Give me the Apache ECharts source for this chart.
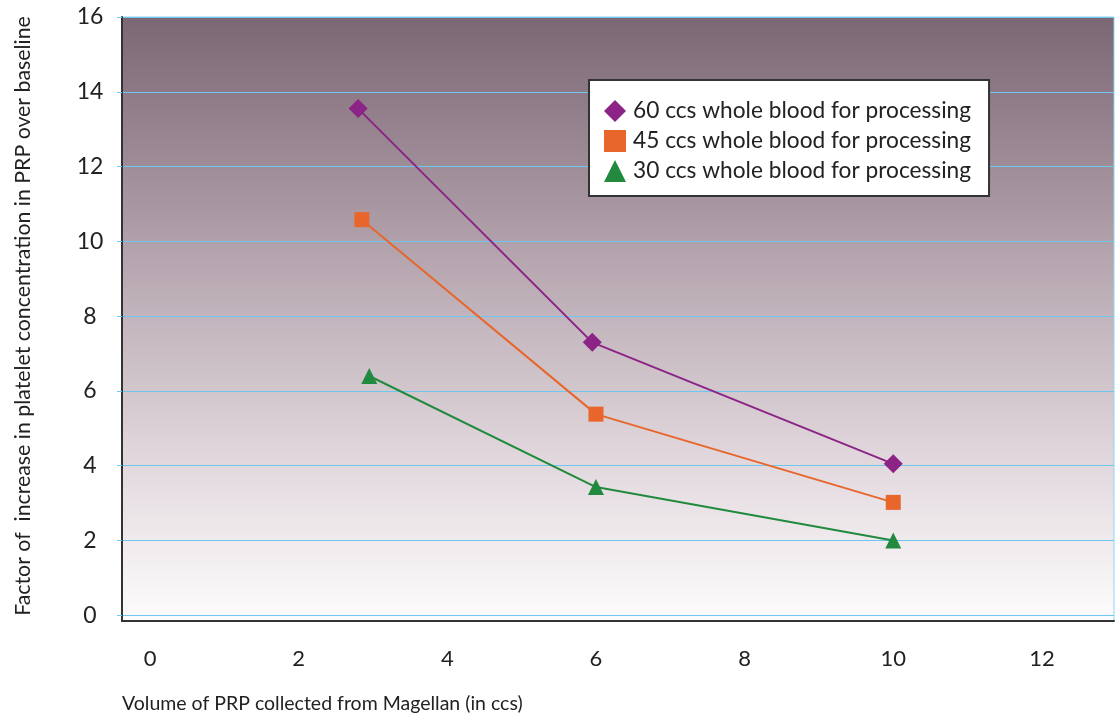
<!DOCTYPE html>
<html>
<head>
<meta charset="utf-8">
<script src="https://cdn.jsdelivr.net/npm/echarts@6/dist/echarts.min.js"></script>
<style>
html,body{margin:0;padding:0;background:#fff;}
#chart{width:1117px;height:717px;}
</style>
</head>
<body>
<div id="chart"></div>
<script>
var seriesNames = ['60 ccs whole blood for processing', '45 ccs whole blood for processing', '30 ccs whole blood for processing'];
var x60 = [2.8, 5.95, 10];
var y60 = [13.55, 7.3, 4.05];
var x45 = [2.85, 6, 10];
var y45 = [10.58, 5.38, 3.02];
var x30 = [2.95, 6, 10];
var y30 = [6.4, 3.43, 2.0];
var xTicks = [0, 2, 4, 6, 8, 10, 12];
var yTicks = [0, 2, 4, 6, 8, 10, 12, 14, 16];
var xTitle = 'Volume of PRP collected from Magellan (in ccs)';
var yTitle = 'Factor of  increase in platelet concentration in PRP over baseline';

function pairs(xs, ys) { return xs.map(function (x, i) { return [x, ys[i]]; }); }

var FONT = 'Lato';
var chart = echarts.init(document.getElementById('chart'), null, {renderer: 'canvas'});
var option = {
  animation: false,
  backgroundColor: '#ffffff',
  textStyle: {fontFamily: FONT},
  grid: {
    left: 122, right: 3, top: 17, bottom: 96,
    show: true,
    borderColor: '#8fd3f2', borderWidth: 1,
    backgroundColor: {
      type: 'linear', x: 0, y: 0, x2: 0, y2: 1,
      colorStops: [
        {offset: 0, color: '#7b6774'},
        {offset: 0.25, color: '#9f8d98'},
        {offset: 0.5, color: '#c3b5bd'},
        {offset: 0.75, color: '#e3dadf'},
        {offset: 0.9, color: '#f3eff1'},
        {offset: 1, color: '#fdfcfd'}
      ]
    }
  },
  xAxis: {
    type: 'value', min: -0.377, max: 12.97,
    axisLine: {show: true, onZero: false, lineStyle: {color: '#333', width: 2}},
    axisTick: {show: false},
    splitLine: {show: false},
    axisLabel: {customValues: xTicks, margin: 27, fontSize: 22, color: '#222', fontFamily: FONT}
  },
  yAxis: {
    type: 'value', min: -0.152, max: 16,
    axisLine: {show: true, onZero: false, lineStyle: {color: '#333', width: 2}},
    axisTick: {show: true, customValues: yTicks, length: 5, lineStyle: {color: '#6fc6ef', width: 1}},
    splitLine: {show: true, lineStyle: {color: '#6fc6ef', width: 1}},
    axisLabel: {customValues: yTicks, margin: 32, align: 'center', fontSize: 23, color: '#222', fontFamily: FONT}
  },
  legend: {
    orient: 'vertical',
    left: 589, top: 80,
    backgroundColor: '#ffffff',
    borderColor: '#333', borderWidth: 2,
    padding: [19, 18, 13, 15],
    itemWidth: 22, itemHeight: 22, itemGap: 6,
    textStyle: {fontSize: 22.7, color: '#222', fontFamily: FONT, lineHeight: 24, padding: [0, 0, 0, 2]},
    data: [
      {name: seriesNames[0], icon: 'diamond'},
      {name: seriesNames[1], icon: 'rect'},
      {name: seriesNames[2], icon: 'triangle'}
    ]
  },
  graphic: [
    {type: 'text', left: 122, top: 694, style: {text: xTitle, fontSize: 19.5, fill: '#222', fontFamily: FONT}},
    {type: 'text', x: 23, y: 316, rotation: Math.PI / 2,
     style: {text: yTitle, fontSize: 21.3, fill: '#222', fontFamily: FONT, align: 'center', verticalAlign: 'middle'}}
  ],
  series: [
    {name: seriesNames[0], type: 'line', data: pairs(x60, y60), symbol: 'diamond', symbolSize: 19,
     itemStyle: {color: '#8c2386'}, lineStyle: {color: '#8c2386', width: 2}},
    {name: seriesNames[1], type: 'line', data: pairs(x45, y45), symbol: 'rect', symbolSize: 15,
     itemStyle: {color: '#e8662b'}, lineStyle: {color: '#e8662b', width: 2}},
    {name: seriesNames[2], type: 'line', data: pairs(x30, y30), symbol: 'triangle', symbolSize: 16,
     itemStyle: {color: '#228a3e'}, lineStyle: {color: '#228a3e', width: 2}}
  ]
};
chart.setOption(option);
</script>
</body>
</html>
